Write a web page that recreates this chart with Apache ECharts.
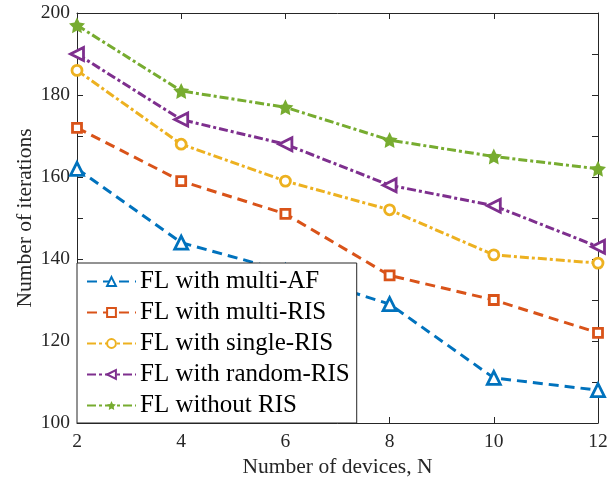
<!DOCTYPE html>
<html>
<head>
<meta charset="utf-8">
<script src="https://cdn.jsdelivr.net/npm/echarts@6/dist/echarts.min.js"></script>
<style>
html,body{margin:0;padding:0;background:#fff;}
#c{width:615px;height:483px;}
</style>
</head>
<body>
<div id="c"></div>
<script>
const devices = [2, 4, 6, 8, 10, 12];
const multiAF = [162, 144, 137, 129, 111, 108];
const multiRIS = [172, 159, 151, 136, 130, 122];
const singleRIS = [186, 168, 159, 152, 141, 139];
const randomRIS = [190, 174, 168, 158, 153, 143];
const withoutRIS = [197, 181, 177, 169, 165, 162];
const seriesNames = ['FL with multi-AF', 'FL with multi-RIS', 'FL with single-RIS', 'FL with random-RIS', 'FL without RIS'];
const xTicks = [2, 4, 6, 8, 10, 12];
const yTicks = [100, 120, 140, 160, 180, 200];

const FONT = '"Liberation Serif", "Times New Roman", serif';
const AX = '#262626';
const STAR = 'path://M0,-10L2.94,-4.05L9.51,-3.09L4.76,1.55L5.88,8.09L0,5L-5.88,8.09L-4.76,1.55L-9.51,-3.09L-2.94,-4.05Z';
const DASH = [10, 6];
const DASHDOT = [9, 3, 3, 3];

function pts(arr){ return devices.map((d,i)=>[d, arr[i]]); }

function mk(name, data, color, symbol, size, dash, rotate, filled){
  return {
    name: name, type: 'line', data: pts(data),
    symbol: symbol, symbolSize: size, symbolRotate: rotate || 0,
    showSymbol: true,
    lineStyle: {color: color, width: 3, type: dash},
    itemStyle: {color: filled ? color : '#fff', borderColor: color, borderWidth: filled ? 0 : 2.8},
    emphasis: {disabled: true},
    animation: false,
    z: 3
  };
}

const chart = echarts.init(document.getElementById('c'), null, {renderer: 'canvas'});
const axisCommon = {
  type: 'value',
  axisLine: {show: true, onZero: false, lineStyle: {color: AX, width: 1}},
  axisTick: {show: true, inside: true, length: 6, lineStyle: {color: AX, width: 1}},
  splitLine: {show: false}
};
chart.setOption({
  animation: false,
  backgroundColor: '#fff',
  grid: {left: 77, right: 17, top: 13, bottom: 60, containLabel: false},
  xAxis: [
    Object.assign({}, axisCommon, {
      min: 2, max: 12, interval: 2, position: 'bottom',
      name: 'Number of devices, N', nameLocation: 'middle', nameGap: 33,
      nameMoveOverlap: false,
      nameTextStyle: {fontFamily: FONT, fontSize: 21.5, color: AX},
      axisLabel: {fontFamily: FONT, fontSize: 19.5, color: AX, margin: 9,
        formatter: v => xTicks.indexOf(v) >= 0 ? String(v) : ''}
    }),
    Object.assign({}, axisCommon, {
      min: 2, max: 12, interval: 2, position: 'top', axisLabel: {show: false}
    })
  ],
  yAxis: [
    Object.assign({}, axisCommon, {
      min: 100, max: 200, interval: 10, position: 'left',
      name: 'Number of iterations', nameLocation: 'middle', nameGap: 41,
      nameMoveOverlap: false,
      nameTextStyle: {fontFamily: FONT, fontSize: 21.5, color: AX},
      axisLabel: {fontFamily: FONT, fontSize: 19.5, color: AX, margin: 7,
        formatter: v => yTicks.indexOf(v) >= 0 ? String(v) : ''}
    }),
    Object.assign({}, axisCommon, {
      min: 100, max: 200, interval: 10, position: 'right', axisLabel: {show: false}
    })
  ],
  legend: {
    show: true, orient: 'vertical', left: 77, top: 263,
    data: seriesNames,
    itemWidth: 49, itemHeight: 11, itemGap: 6,
    padding: [6, 7, 5, 9],
    backgroundColor: '#fff', borderColor: AX, borderWidth: 1, borderRadius: 0,
    textStyle: {fontFamily: FONT, fontSize: 25, color: '#000', padding: [0,0,0,-1]},
    selectedMode: false,
    z: 10
  },
  series: [
    mk(seriesNames[0], multiAF, '#0072BD', 'triangle', 13, DASH, 0, false),
    mk(seriesNames[1], multiRIS, '#D95319', 'rect', 9, DASH, 0, false),
    mk(seriesNames[2], singleRIS, '#EDB120', 'circle', 10, DASHDOT, 0, false),
    mk(seriesNames[3], randomRIS, '#7E2F8E', 'triangle', 13, DASHDOT, 90, false),
    mk(seriesNames[4], withoutRIS, '#77AC30', STAR, 16, DASHDOT, 0, true)
  ]
});
</script>
</body>
</html>
